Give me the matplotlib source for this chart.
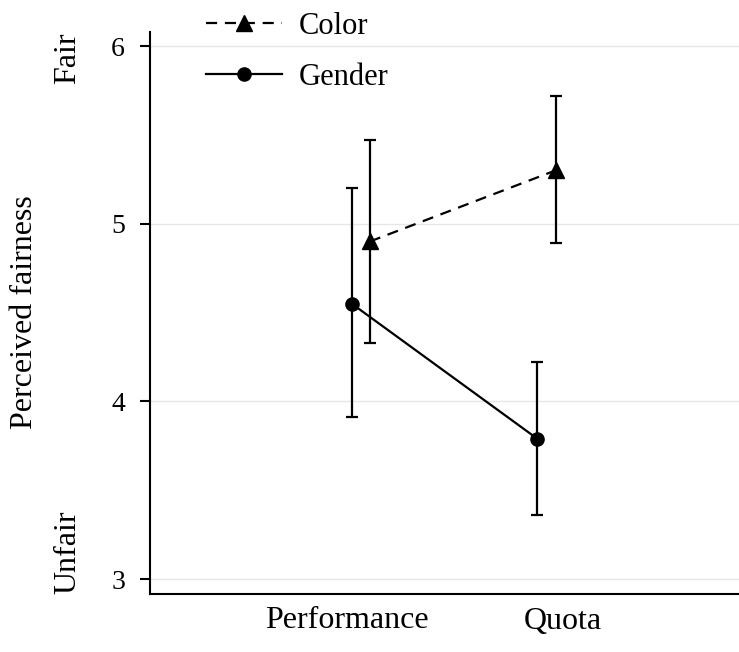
import matplotlib
matplotlib.use("Agg")
import matplotlib.pyplot as plt
import numpy as np

plt.rcParams['font.family'] = ['Liberation Serif', 'DejaVu Serif']

categories = ["Performance", "Quota"]
series = ["Color", "Gender"]
color_mean = [4.90, 5.30]
color_low = [4.33, 4.89]
color_high = [5.47, 5.72]
gender_mean = [4.55, 3.79]
gender_low = [3.91, 3.36]
gender_high = [5.20, 4.22]
yticks = [3, 4, 5, 6]

fig = plt.figure(figsize=(7.39, 6.52), dpi=100)
ax = fig.add_axes([150/739, (652-594)/652, (739-150)/739, (594-32)/652])

base = np.arange(1, len(categories) + 1)
color_off = np.array([0.106, -0.034])
gender_off = np.array([0.022, -0.119])

def err(mean, low, high):
    m = np.array(mean); return [m - np.array(low), np.array(high) - m]

lw = 1.6
ax.errorbar(base + color_off, color_mean, yerr=err(color_mean, color_low, color_high),
            fmt='none', ecolor='black', elinewidth=lw, capsize=4.2, capthick=lw, zorder=3)
ax.errorbar(base + gender_off, gender_mean, yerr=err(gender_mean, gender_low, gender_high),
            fmt='none', ecolor='black', elinewidth=lw, capsize=4.2, capthick=lw, zorder=3)
hc, = ax.plot(base + color_off, color_mean, color='black', lw=lw, ls=(0, (5, 3.5)),
              marker='^', markersize=11, zorder=4)
hg, = ax.plot(base + gender_off, gender_mean, color='black', lw=lw, ls='-',
              marker='o', markersize=9.5, zorder=4)

ax.set_xlim(0.088, 2.815)
ax.set_ylim(2.916, 6.079)
ax.set_yticks(yticks)
ax.set_yticklabels([str(t) for t in yticks], fontsize=20)
ax.set_xticks(base)
ax.set_xticklabels(categories, fontsize=23)
ax.tick_params(axis='x', length=0, pad=9)
ax.tick_params(axis='y', length=7, width=1.5, pad=11)
ax.grid(axis='y', color='#e6e6e6', lw=1)
ax.set_axisbelow(True)
for s in ['top', 'right']:
    ax.spines[s].set_visible(False)
for s in ['left', 'bottom']:
    ax.spines[s].set_linewidth(1.5)

fig.text(25/739, 1 - 312/652, "Perceived fairness", rotation=90, fontsize=23,
         ha='center', va='center')
fig.text(68/739, 1 - 32/652, "Fair", rotation=90, fontsize=23, ha='center', va='top')
fig.text(68/739, 1 - 594/652, "Unfair", rotation=90, fontsize=23, ha='center', va='bottom')

leg = fig.legend([hc, hg], series, loc='upper left', bbox_to_anchor=(206/739, 1 - 12/652),
                 frameon=False, fontsize=22, handlelength=2.5, handletextpad=0.55,
                 labelspacing=0.72, borderpad=0, borderaxespad=0)

fig.savefig("out.png", dpi=100)
